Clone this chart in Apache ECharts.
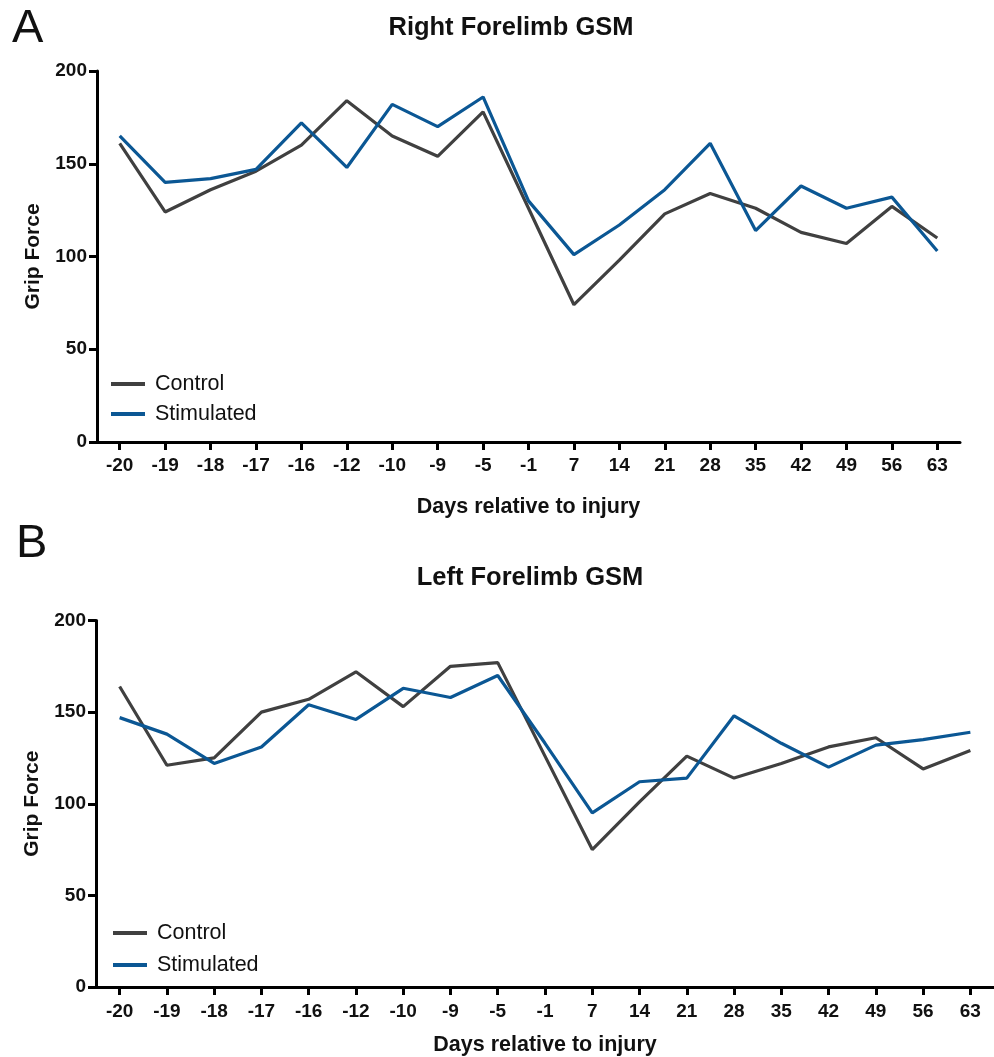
<!DOCTYPE html>
<html>
<head>
<meta charset="utf-8">
<script src="https://cdn.jsdelivr.net/npm/echarts@6/dist/echarts.min.js"></script>
<style>
  html, body { margin: 0; padding: 0; background: #fff; }
  #chart { width: 994px; height: 1057px; }
</style>
</head>
<body>
<div id="chart"></div>
<script>
// Category labels (days relative to injury)
var days = ['-20','-19','-18','-17','-16','-12','-10','-9','-5','-1','7','14','21','28','35','42','49','56','63'];

// Panel A: Right Forelimb GSM
var rightControl    = [161, 124, 136, 146, 160, 184, 165, 154, 178, 126, 74, 98, 123, 134, 126, 113, 107, 127, 110];
var rightStimulated = [165, 140, 142, 147, 172, 148, 182, 170, 186, 130, 101, 117, 136, 161, 114, 138, 126, 132, 103];

// Panel B: Left Forelimb GSM
var leftControl     = [164, 121, 125, 150, 157, 172, 153, 175, 177, 126, 75, 101, 126, 114, 122, 131, 136, 119, 129];
var leftStimulated  = [147, 138, 122, 131, 154, 146, 163, 158, 170, 133, 95, 112, 114, 148, 133, 120, 132, 135, 139];

var yTicks = [0, 50, 100, 150, 200];

var FONT = "'Liberation Sans', Arial, Helvetica, sans-serif";
var GRAY = '#404040';
var BLUE = '#0b5794';
var INK = '#111111';

function xAxisCfg(gridIndex, labelMargin, nameGap) {
  return {
    type: 'category',
    gridIndex: gridIndex,
    data: days,
    boundaryGap: true,
    name: 'Days relative to injury',
    nameLocation: 'middle',
    nameGap: nameGap,
    nameTextStyle: { fontFamily: FONT, fontWeight: 'bold', fontSize: 21.5, color: INK },
    axisLine: { show: true, lineStyle: { color: '#000', width: 3 } },
    axisTick: { show: true, alignWithLabel: true, length: 8, lineStyle: { color: '#000', width: 3 } },
    axisLabel: { fontFamily: FONT, fontWeight: 'bold', fontSize: 19, color: INK, margin: labelMargin, interval: 0 },
    splitLine: { show: false }
  };
}

function yAxisCfg(gridIndex) {
  return {
    type: 'value',
    gridIndex: gridIndex,
    min: yTicks[0],
    max: yTicks[yTicks.length - 1],
    interval: 50,
    name: 'Grip Force',
    nameLocation: 'middle',
    nameGap: 53,
    nameTextStyle: { fontFamily: FONT, fontWeight: 'bold', fontSize: 21, color: INK },
    axisLine: { show: true, lineStyle: { color: '#000', width: 3 } },
    axisTick: { show: true, length: 8, lineStyle: { color: '#000', width: 3 } },
    axisLabel: { fontFamily: FONT, fontWeight: 'bold', fontSize: 19, color: INK, margin: 10 },
    splitLine: { show: false }
  };
}

function lineSeries(name, data, color, idx) {
  return {
    name: name,
    type: 'line',
    xAxisIndex: idx,
    yAxisIndex: idx,
    data: data,
    symbol: 'none',
    showSymbol: false,
    smooth: false,
    lineStyle: { color: color, width: 3.2 },
    itemStyle: { color: color },
    emphasis: { disabled: true },
    animation: false
  };
}

function legendCfg(left, top, gap) {
  return {
    orient: 'vertical',
    left: left,
    top: top,
    itemGap: gap,
    icon: 'rect',
    itemWidth: 34,
    itemHeight: 4,
    data: ['Control', 'Stimulated'],
    selectedMode: false,
    textStyle: { fontFamily: FONT, fontSize: 21.5, color: INK, lineHeight: 22, padding: [0, 0, 0, 5] }
  };
}

var chart = echarts.init(document.getElementById('chart'), null, { renderer: 'canvas' });

chart.setOption({
  backgroundColor: '#ffffff',
  animation: false,
  title: [
    { text: 'A', left: 7, top: 1, textStyle: { fontFamily: FONT, fontWeight: 'normal', fontSize: 47, color: INK } },
    { text: 'Right Forelimb GSM', left: 506, top: 10, textAlign: 'center',
      textStyle: { fontFamily: FONT, fontWeight: 'bold', fontSize: 25.5, color: INK } },
    { text: 'B', left: 11, top: 516, textStyle: { fontFamily: FONT, fontWeight: 'normal', fontSize: 47, color: INK } },
    { text: 'Left Forelimb GSM', left: 525, top: 560, textAlign: 'center',
      textStyle: { fontFamily: FONT, fontWeight: 'bold', fontSize: 25.5, color: INK } }
  ],
  legend: [
    legendCfg(106, 368, 8),
    legendCfg(108, 917, 10)
  ],
  grid: [
    { left: 97, top: 71, width: 863, height: 371, containLabel: false },
    { left: 96, top: 620.5, width: 906, height: 367.5, containLabel: false }
  ],
  xAxis: [ xAxisCfg(0, 14, 54), xAxisCfg(1, 15, 47) ],
  yAxis: [ yAxisCfg(0), yAxisCfg(1) ],
  series: [
    lineSeries('Control', rightControl, GRAY, 0),
    lineSeries('Stimulated', rightStimulated, BLUE, 0),
    lineSeries('Control', leftControl, GRAY, 1),
    lineSeries('Stimulated', leftStimulated, BLUE, 1)
  ]
});
</script>
</body>
</html>
